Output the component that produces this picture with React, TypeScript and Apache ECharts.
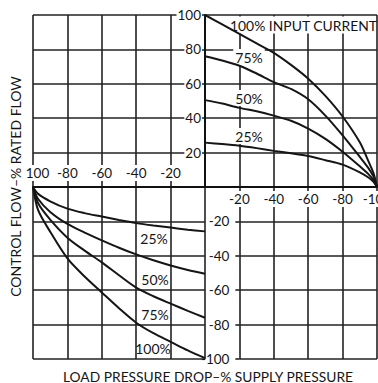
import React, { useEffect, useRef } from 'react';
import * as echarts from 'echarts';

// ---- data (percent values) ----
const currentLabels = ['25%', '50%', '75%', '100%'];

// Top-right quadrant: load pressure drop (0 .. -100) vs control flow (0..100)
const trPressure = [0, -10, -20, -30, -40, -50, -60, -70, -80, -90, -95, -98, -100];
const trFlow25 = [25.8, 25, 24, 22.6, 21, 19.6, 18, 15.6, 13, 8.5, 5.5, 3, 0];
const trFlow50 = [50.5, 48.5, 46, 44, 41.5, 38.5, 34, 28, 20.5, 12, 7.5, 4, 0];
const trFlow75 = [76, 73.5, 70.5, 66, 61, 57, 51, 41.5, 30, 17.5, 11, 6, 0];
const trFlow100 = [100, 94.5, 89, 83.5, 78, 71, 63, 53, 41, 26, 15, 8, 0];

// Bottom-left quadrant: load pressure drop (-100 .. 0) vs control flow (0..-100)
const blPressure = [-100, -97, -90, -80, -70, -60, -50, -40, -30, -20, -10, 0];
const blFlow25 = [0, -4, -8.3, -12.6, -15.2, -17.2, -19.2, -21, -22.4, -23.6, -24.8, -25.8];
const blFlow50 = [0, -7, -14.5, -21.5, -26.5, -31, -35.3, -39.2, -42.6, -45.6, -48.2, -50.4];
const blFlow75 = [0, -9.5, -19, -29.5, -37, -43.8, -51.3, -58.5, -63.5, -67.8, -72, -76];
const blFlow100 = [0, -13.5, -26, -41.5, -52, -61.3, -70.5, -78.9, -85, -90, -95, -99.5];

const topTitle = '100% INPUT CURRENT';
const yTitle = 'CONTROL FLOW\u2013% RATED FLOW';
const xTitle = 'LOAD PRESSURE DROP\u2013% SUPPLY PRESSURE';

const INK = '#151515';
const FONT = 'Lato';

const zip = (xs: number[], ys: number[]) => xs.map((x, i) => [x, ys[i]]);

const gridLine = { show: true, lineStyle: { color: '#222', width: 1.6 } };
const noLine = { show: false };

export default function App() {
  const ref = useRef<HTMLDivElement>(null);
  useEffect(() => {
    if (!ref.current) return;
    const chart = echarts.init(ref.current, undefined, { renderer: 'svg' });
    const labelBase = { color: INK, fontFamily: FONT, fontSize: 13.5 };
    const curve = (xi: number, data: number[][]) => ({
      type: 'line',
      xAxisIndex: xi,
      yAxisIndex: xi,
      data,
      showSymbol: false,
      symbol: 'none',
      smooth: 0.3,
      lineStyle: { color: INK, width: 2 },
      z: 3,
    });
    const pctLabel = (x: number, y: number, t: string, bg: boolean) => ({
      type: 'text',
      x,
      y,
      z: bg ? 1 : 4,
      style: {
        text: t,
        fill: INK,
        fontFamily: FONT,
        fontSize: 14,
        align: 'center',
        verticalAlign: 'middle',
        backgroundColor: bg ? '#fff' : undefined,
        padding: bg ? [1, 2] : 0,
      },
    });
    const g = (left: number, top: number, width: number, height: number) => ({
      left, top, width, height, outerBoundsMode: 'none', containLabel: false,
    });
    chart.setOption({
      animation: false,
      backgroundColor: '#fff',
      grid: [
        g(33, 15, 172, 172),
        g(205, 15, 172, 172),
        g(33, 187, 172, 172),
        g(239.4, 187, 137.6, 172),
      ],
      xAxis: [
        { gridIndex: 0, type: 'value', min: -100, max: 0, interval: 20, axisLine: { show: true, onZero: false, lineStyle: { color: '#111', width: 2 } }, axisTick: noLine, axisLabel: noLine, splitLine: gridLine },
        { gridIndex: 1, type: 'value', min: -100, max: 0, interval: 20, inverse: true, axisLine: { show: true, onZero: false, lineStyle: { color: '#111', width: 2 } }, axisTick: noLine, axisLabel: noLine, splitLine: gridLine },
        { gridIndex: 2, type: 'value', min: -100, max: 0, interval: 20, axisLine: { show: false, onZero: false }, axisTick: noLine, axisLabel: noLine, splitLine: gridLine },
        { gridIndex: 3, type: 'value', min: -100, max: -20, interval: 20, inverse: true, axisLine: { show: false, onZero: false }, axisTick: noLine, axisLabel: noLine, splitLine: gridLine },
        // label-only axes (drawn above grid lines)
        {
          gridIndex: 0, type: 'value', min: -100, max: 0, interval: 20, position: 'bottom', z: 1,
          axisLine: { show: false, onZero: false }, axisTick: noLine, splitLine: noLine,
          axisLabel: {
            ...labelBase, inside: true, margin: 6, showMaxLabel: false,
            backgroundColor: '#fff', padding: [1, 1],
            formatter: (v: number) => (v === -100 ? '{s|100}' : String(v)),
            rich: { s: { ...labelBase, padding: [0, 0, 0, 9] } },
          },
        },
        {
          gridIndex: 1, type: 'value', min: -100, max: 0, interval: 20, inverse: true, position: 'bottom', z: 1,
          axisLine: { show: false, onZero: false }, axisTick: noLine, splitLine: noLine,
          axisLabel: {
            ...labelBase, margin: 4, showMaxLabel: false,
            backgroundColor: '#fff', padding: [1, 1],
            formatter: (v: number) => String(v),
          },
        },
      ],
      yAxis: [
        { gridIndex: 0, type: 'value', min: 0, max: 100, interval: 20, axisLine: { show: false, onZero: false }, axisTick: noLine, axisLabel: noLine, splitLine: gridLine },
        { gridIndex: 1, type: 'value', min: 0, max: 100, interval: 20, position: 'left', axisLine: { show: true, onZero: false, lineStyle: { color: '#111', width: 2 } }, axisTick: noLine, axisLabel: noLine, splitLine: gridLine },
        { gridIndex: 2, type: 'value', min: -100, max: 0, interval: 20, axisLine: { show: false, onZero: false }, axisTick: noLine, axisLabel: noLine, splitLine: gridLine },
        {
          gridIndex: 3, type: 'value', min: -100, max: 0, interval: 20, position: 'left',
          axisLine: { show: false, onZero: false },
          axisTick: { show: true, inside: false, length: 4, lineStyle: { color: '#222', width: 1.6 } },
          axisLabel: { ...labelBase, margin: 10, showMaxLabel: false, formatter: (v: number) => String(v) },
          splitLine: gridLine,
        },
        {
          gridIndex: 1, type: 'value', min: 0, max: 100, interval: 20, position: 'left', z: 1,
          axisLine: { show: false, onZero: false }, axisTick: noLine, splitLine: noLine,
          axisLabel: {
            ...labelBase, margin: 3, showMinLabel: false,
            backgroundColor: '#fff', padding: [0, 1],
            formatter: (v: number) => String(v),
          },
        },
      ],
      series: [
        curve(1, zip(trPressure, trFlow25)),
        curve(1, zip(trPressure, trFlow50)),
        curve(1, zip(trPressure, trFlow75)),
        curve(1, zip(trPressure, trFlow100)),
        curve(2, zip(blPressure, blFlow25)),
        curve(2, zip(blPressure, blFlow50)),
        curve(2, zip(blPressure, blFlow75)),
        curve(2, zip(blPressure, blFlow100)),
      ],
      graphic: [
        { type: 'rect', z: 1, shape: { x: 228, y: 16.6, width: 147, height: 17 }, style: { fill: '#fff' } },
        {
          type: 'text', x: 230, y: 25.5, z: 1,
          style: { text: topTitle, fill: INK, fontFamily: FONT, fontSize: 13.9, align: 'left', verticalAlign: 'middle' },
        },
        pctLabel(249, 57, currentLabels[2], true),
        pctLabel(249, 98, currentLabels[1], true),
        pctLabel(249, 136, currentLabels[0], true),
        pctLabel(154, 238, currentLabels[0], false),
        pctLabel(155, 279, currentLabels[1], false),
        pctLabel(155, 314, currentLabels[2], false),
        pctLabel(153, 348, currentLabels[3], false),
        {
          type: 'text', x: 15, y: 186.5, rotation: Math.PI / 2, z: 4,
          style: { text: yTitle, fill: INK, fontFamily: FONT, fontSize: 14, align: 'center', verticalAlign: 'middle' },
        },
        {
          type: 'text', x: 208, y: 376, z: 4,
          style: { text: xTitle, fill: INK, fontFamily: FONT, fontSize: 13.8, align: 'center', verticalAlign: 'middle' },
        },
      ],
    });
    return () => chart.dispose();
  }, []);
  return (
    <div
      ref={ref}
      style={{ position: 'absolute', left: 0, top: 0, width: 378, height: 383, background: '#fff' }}
    />
  );
}
